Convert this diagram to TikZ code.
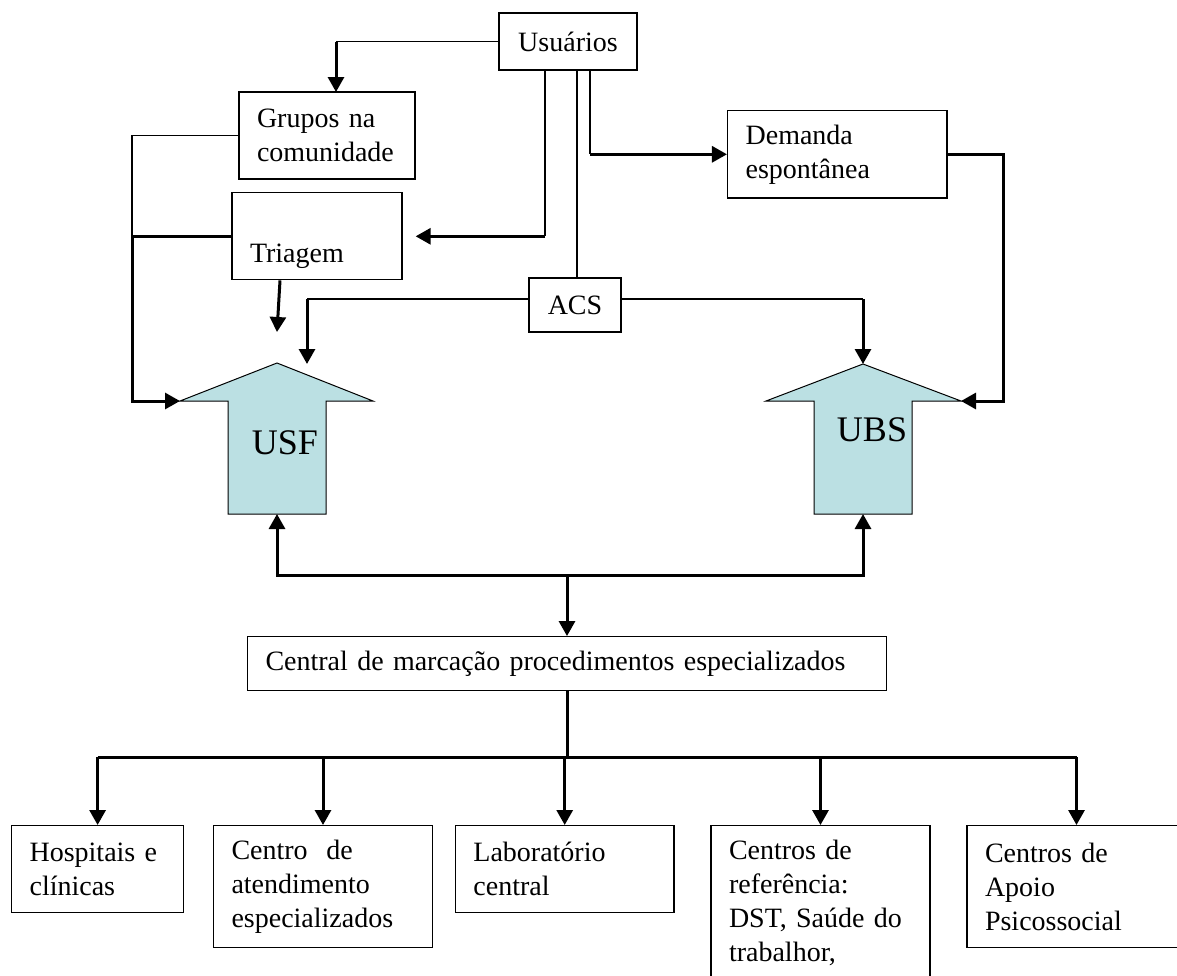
\documentclass[tikz,border=0pt]{standalone}
\usepackage{fontspec}
\setmainfont{Liberation Serif}
\usepackage{xcolor}
\usetikzlibrary{arrows.meta}
\definecolor{unitblue}{HTML}{BBE0E3}

\begin{document}
\begin{tikzpicture}[
  x=0.5pt, y=-0.5pt,
  box/.style  ={draw, line width=0.65pt, align=left, inner xsep=9pt, inner ysep=0pt,
                font=\fontsize{14}{17}\selectfont},
  cbox/.style ={draw, line width=0.65pt, inner sep=0pt, font=\fontsize{14}{17}\selectfont},
  unit/.style ={draw, line width=0.5pt, fill=unitblue},
  ulbl/.style ={font=\fontsize{18}{22}\selectfont},
  link/.style ={line width=0.6pt},
  flow/.style ={line width=1.5pt},
  fwd/.style  ={flow, -{Triangle[length=7.5pt,width=8pt]}},
]
\useasboundingbox (0,0) rectangle (1177,975);
\clip (0,0) rectangle (1177,975);

% ---------------- upper part: entry points ----------------
\node[cbox, minimum width=69pt, minimum height=28.5pt] (usu) at (568,41.5) {Usuários};
\node[box, text width=70pt, minimum height=43.5pt] (grp) at (327,135.5) {Grupos na\\comunidade};
\node[box, text width=67pt, minimum height=43.5pt] (tri) at (317,236.3) {\strut\\Triagem};
\node[box, text width=91.7pt, minimum height=43.6pt] (dem) at (837.3,154.3) {Demanda\\espontânea};
\node[cbox, minimum width=46pt, minimum height=27pt] (acs) at (575,305) {ACS};

% ---------------- the two units ----------------
\draw[unit] (180,401) coordinate (usfL) -- (277,363) coordinate (usfT) -- (373,401)
  -- (326,401) -- (326,514) -- (277,514) coordinate (usfB) -- (228,514) -- (228,401) -- cycle;
\draw[unit] (766,401) -- (863,364) coordinate (ubsT) -- (961,401) coordinate (ubsR)
  -- (912,401) -- (912,514) -- (863,514) coordinate (ubsB) -- (814,514) -- (814,401) -- cycle;
\node[ulbl] (usf) at (285,443) {USF};
\node[ulbl] (ubs) at (872,430) {UBS};

\coordinate (grpin) at (336,92);
\coordinate (jn)    at (132,236.3);
\coordinate (triend) at (277,332);
\coordinate (usfin) at (307,364);
\coordinate (demk)  at (1003,154.3);
\coordinate (u1) at ([xshift=-11.5pt]usu.south);
\coordinate (u2) at ([xshift=4.5pt]usu.south);
\coordinate (u3) at ([xshift=11pt]usu.south);
\coordinate (acsL) at ([yshift=3pt]acs.west);
\coordinate (acsR) at ([yshift=3pt]acs.east);

\draw[link] (usu.west) -- (usu.west -| grpin);
\draw[fwd]  (usu.west -| grpin) -- (grpin);
\draw[link] (u1) -- (u1 |- tri.east);
\draw[fwd]  (u1 |- tri.east) -- ([xshift=6.5pt]tri.east);
\draw[link] (u2) -- (u2 |- acs.north);
\draw[link] (u3) -- (u3 |- dem.west);
\draw[fwd]  (u3 |- dem.west) -- (dem.west);

\draw[link] (grp.west) -| (jn);
\draw[fwd]  (tri.west) -- (jn) |- (usfL);
\draw[fwd]  ([xshift=-18.5pt]tri.south) -- (triend);
\draw[fwd]  (dem.east) -- (demk) |- (ubsR);

\draw[link] (acsL) -- (acsL -| usfin);
\draw[fwd]  (acsL -| usfin) -- (usfin);
\draw[link] (acsR) -- (acsR -| ubsT);
\draw[fwd]  (acsR -| ubsT) -- (ubsT);

% ---------------- lower part: referral ----------------
\node[box, text width=301.5pt, minimum height=27pt] (cen) at (567,663.7)
  {Central de marcação procedimentos especializados};
\coordinate (hub) at (567,575);
\draw[fwd] (hub) -| (usfB);
\draw[fwd] (hub) -| (ubsB);
\draw[fwd] (hub) -- (cen.north);

\node[box, anchor=north, text width=68pt,   minimum height=43.5pt] (b1) at (97.6,825)  {Hospitais e\\clínicas};
\node[box, anchor=north, text width=91.5pt, minimum height=61pt]   (b2) at (323,825)   {Centro~ de\\atendimento\\especializados};
\node[box, anchor=north, text width=91.3pt, minimum height=43.5pt] (b3) at (564.7,825) {Laboratório\\central};
\node[box, anchor=north, text width=91.5pt, minimum height=77.5pt] (b4) at (820.5,825) {Centros de\\referência:\\DST, Saúde do\\trabalhor,};
\node[box, anchor=north, text width=91.5pt, minimum height=61pt]   (b5) at (1076.5,825) {Centros de\\Apoio\\Psicossocial};

\coordinate (bus) at (567,757);
\draw[flow] (cen.south) -- (bus);
\draw[flow] (bus -| b1.north) -- (bus -| b5.north);
\draw[fwd] (bus -| b1.north) -- (b1.north);
\draw[fwd] (bus -| b2.north) -- (b2.north);
\draw[fwd] (bus -| b3.north) -- (b3.north);
\draw[fwd] (bus -| b4.north) -- (b4.north);
\draw[fwd] (bus -| b5.north) -- (b5.north);

\end{tikzpicture}
\end{document}
